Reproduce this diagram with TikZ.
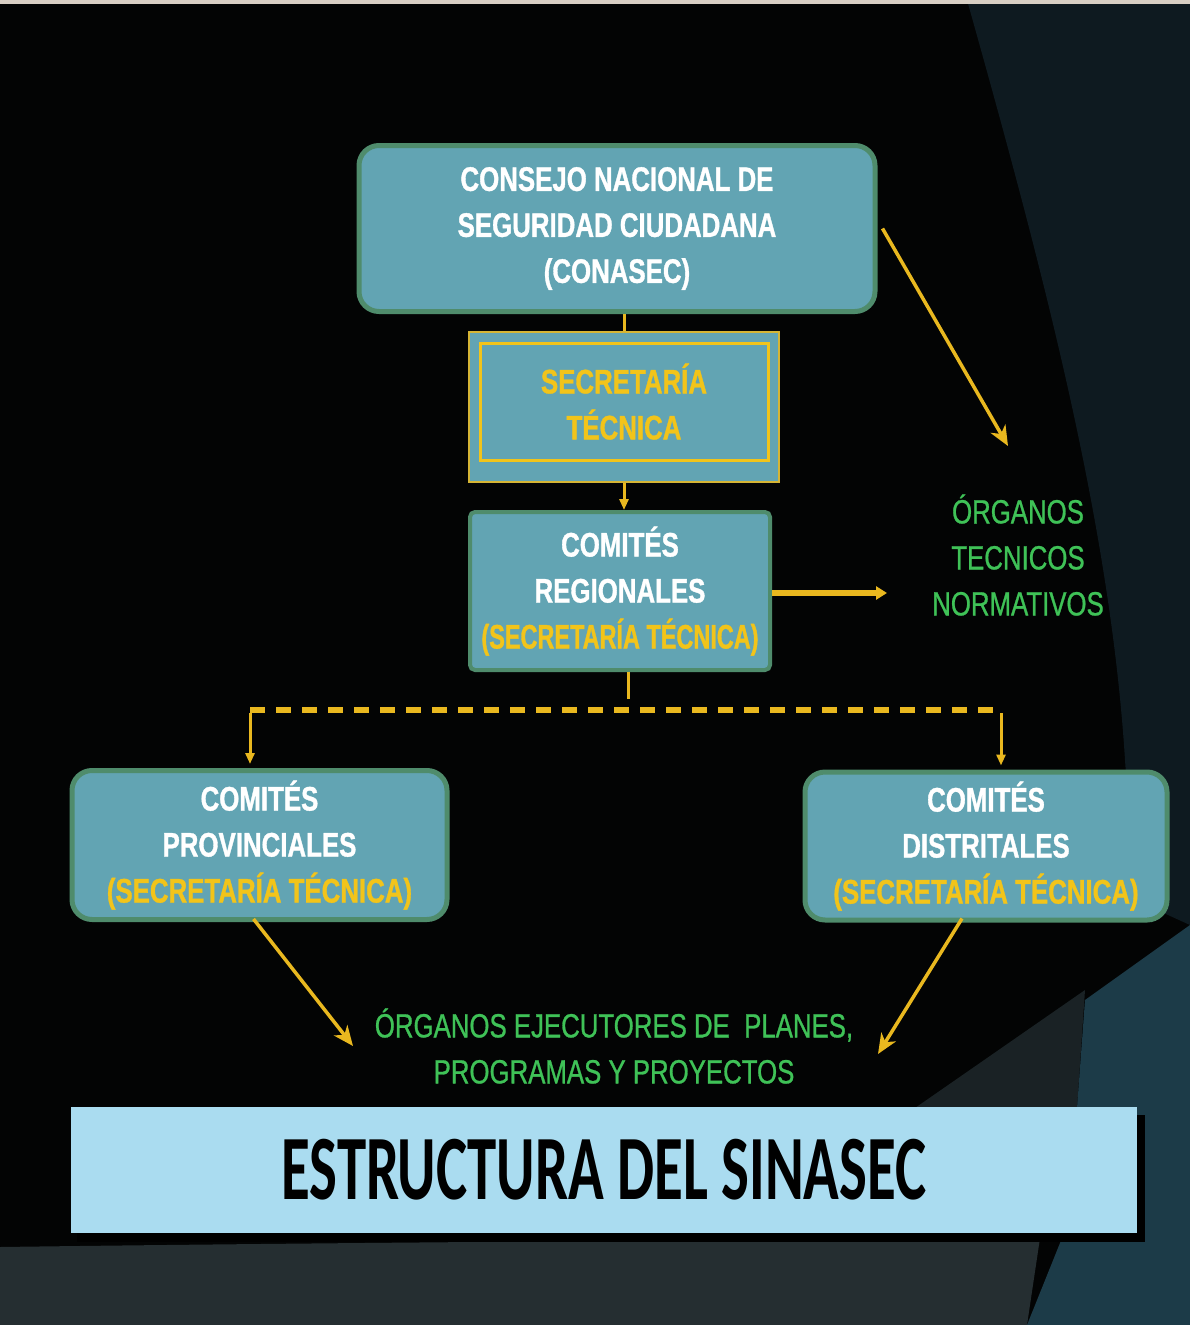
\documentclass[tikz,border=0pt]{standalone}
\usepackage{fontspec}
\usetikzlibrary{arrows.meta}
\newfontfamily\boxfont[FakeStretch=0.76,FakeBold=1]{Liberation Sans}
\newfontfamily\tightfont[FakeStretch=0.69,FakeBold=1]{Liberation Sans}
\newfontfamily\greenfont[FakeStretch=0.77,FakeBold=0.8]{Liberation Sans}
\newfontfamily\titlefont[FakeStretch=0.64]{Carlito}
\definecolor{bg}{HTML}{030404}
\definecolor{navy}{HTML}{0E1A20}
\definecolor{tealbg}{HTML}{1C3B48}
\definecolor{greybg}{HTML}{252E31}
\definecolor{wedge}{HTML}{1A2225}
\definecolor{boxfill}{HTML}{62A4B3}
\definecolor{boxrim}{HTML}{4F8C6C}
\definecolor{gold}{HTML}{E9B81F}
\definecolor{ytext}{HTML}{F2C41A}
\definecolor{gtext}{HTML}{3FC257}
\definecolor{titlefill}{HTML}{AADCF0}
\definecolor{topstrip}{HTML}{D8CFC4}
\tikzset{
  boxtxt/.style={font={\boxfont\bfseries\fontsize{34pt}{46pt}\selectfont}, text=white, align=center, inner sep=0pt},
  roundbox/.style={boxtxt, draw=boxrim, line width=5pt, fill=boxfill, rounded corners=20pt},
  squarebox/.style={boxtxt, draw=boxrim, line width=4pt, fill=boxfill, rounded corners=5pt},
  secouter/.style={draw=gold!85!boxfill, line width=2.5pt, fill=boxfill, inner sep=0pt},
  secinner/.style={boxtxt, draw=ytext, line width=3pt, fill=boxfill, text=ytext},
  greentxt/.style={font={\greenfont\fontsize{33.5pt}{46pt}\selectfont}, text=gtext, align=center, inner sep=0pt},
  yl/.style={draw=gold, line width=3pt},
  ydiag/.style={draw=gold, line width=3.5pt, -{Stealth[length=20pt,width=17pt,inset=6pt]}},
  ydown/.style={draw=gold, line width=3pt, -{Triangle[length=11pt,width=9pt]}},
  ythick/.style={draw=gold, line width=6pt, -{Triangle[length=11pt,width=13pt]}},
  ydash/.style={draw=gold, line width=6pt, dash pattern=on 15pt off 11pt}
}
\begin{document}
\begin{tikzpicture}[x=1pt,y=-1pt]
\useasboundingbox (0,0) rectangle (1190,1325);
% background
\fill[bg] (0,0) rectangle (1190,1325);
\fill[navy] (967,0) .. controls (1040,260) and (1110,520) .. (1125,760) -- (1135,900) -- (1190,925) -- (1190,0) -- cycle;
\fill[greybg] (0,1247) .. controls (300,1243) and (700,1240) .. (1040,1238) -- (1027,1325) -- (0,1325) -- cycle;
\fill[wedge] (915,1108) -- (1085,990) -- (1077,1108) -- cycle;
\fill[tealbg] (1190,925) -- (1085,1000) -- (1077,1108) -- (1062,1238) -- (1027,1325) -- (1190,1325) -- cycle;
\fill[topstrip] (0,0) rectangle (1190,4);

% boxes
\node[roundbox, minimum width=516pt, minimum height=166pt] (conasec) at (617,228.5)
  {CONSEJO NACIONAL DE\\SEGURIDAD CIUDADANA\\(CONASEC)};
\node[secouter, minimum width=310pt, minimum height=150pt] (sec) at (624,407) {};
\node[secinner, minimum width=288pt, minimum height=117pt] (secin) at (624,401.5)
  {SECRETARÍA\\TÉCNICA};
\node[squarebox, minimum width=300pt, minimum height=158pt] (reg) at (620,591)
  {COMITÉS\\REGIONALES\\{\tightfont\bfseries\color{ytext}(SECRETARÍA TÉCNICA)}};
\node[roundbox, minimum width=375pt, minimum height=149pt] (prov) at (259.5,845)
  {COMITÉS\\PROVINCIALES\\{\color{ytext}(SECRETARÍA TÉCNICA)}};
\node[roundbox, minimum width=362pt, minimum height=148pt] (dist) at (986,846)
  {COMITÉS\\DISTRITALES\\{\color{ytext}(SECRETARÍA TÉCNICA)}};

% green labels
\node[greentxt] (tecn) at (1018,555) {ÓRGANOS\\TECNICOS\\NORMATIVOS};
\node[greentxt] (ejec) at (614,1046) {ÓRGANOS EJECUTORES DE~ PLANES,\\PROGRAMAS Y PROYECTOS};

% title
\fill[black] (77,1115) rectangle (1145,1242);
\node[fill=titlefill, minimum width=1066pt, minimum height=126pt, inner sep=0pt,
  font={\titlefont\bfseries\fontsize{92pt}{100pt}\selectfont}, text=black] (title) at (604,1170)
  {ESTRUCTURA DEL SINASEC};

% connectors
\draw[yl] (sec.north |- conasec.south) -- (sec.north);
\draw[ydown] (sec.south) -- (sec.south |- reg.north);
\coordinate (tnTip) at (887,593);
\draw[ythick] (reg.east |- tnTip) -- (tnTip);
\coordinate (tecTip) at (1008,446);
\draw[ydiag] ([xshift=5pt]conasec.east) -- (tecTip);
\coordinate (stubend) at (628,699);
\draw[yl] (stubend |- reg.south) -- (stubend);
\coordinate (dl) at (250,710);
\coordinate (dr) at (1001,710);
\draw[ydash] (dl) -- (dr);
\draw[ydown, shorten >=4pt] ([yshift=-3pt]dl) -- (dl |- prov.north);
\draw[ydown, shorten >=4pt] ([yshift=-3pt]dr) -- (dr |- dist.north);
\coordinate (ejL) at (353,1046);
\coordinate (ejR) at (878,1054);
\draw[ydiag] ([xshift=-6pt,yshift=3pt]prov.south) -- (ejL);
\draw[ydiag] ([xshift=-24pt,yshift=4pt]dist.south) -- (ejR);
\end{tikzpicture}
\end{document}
